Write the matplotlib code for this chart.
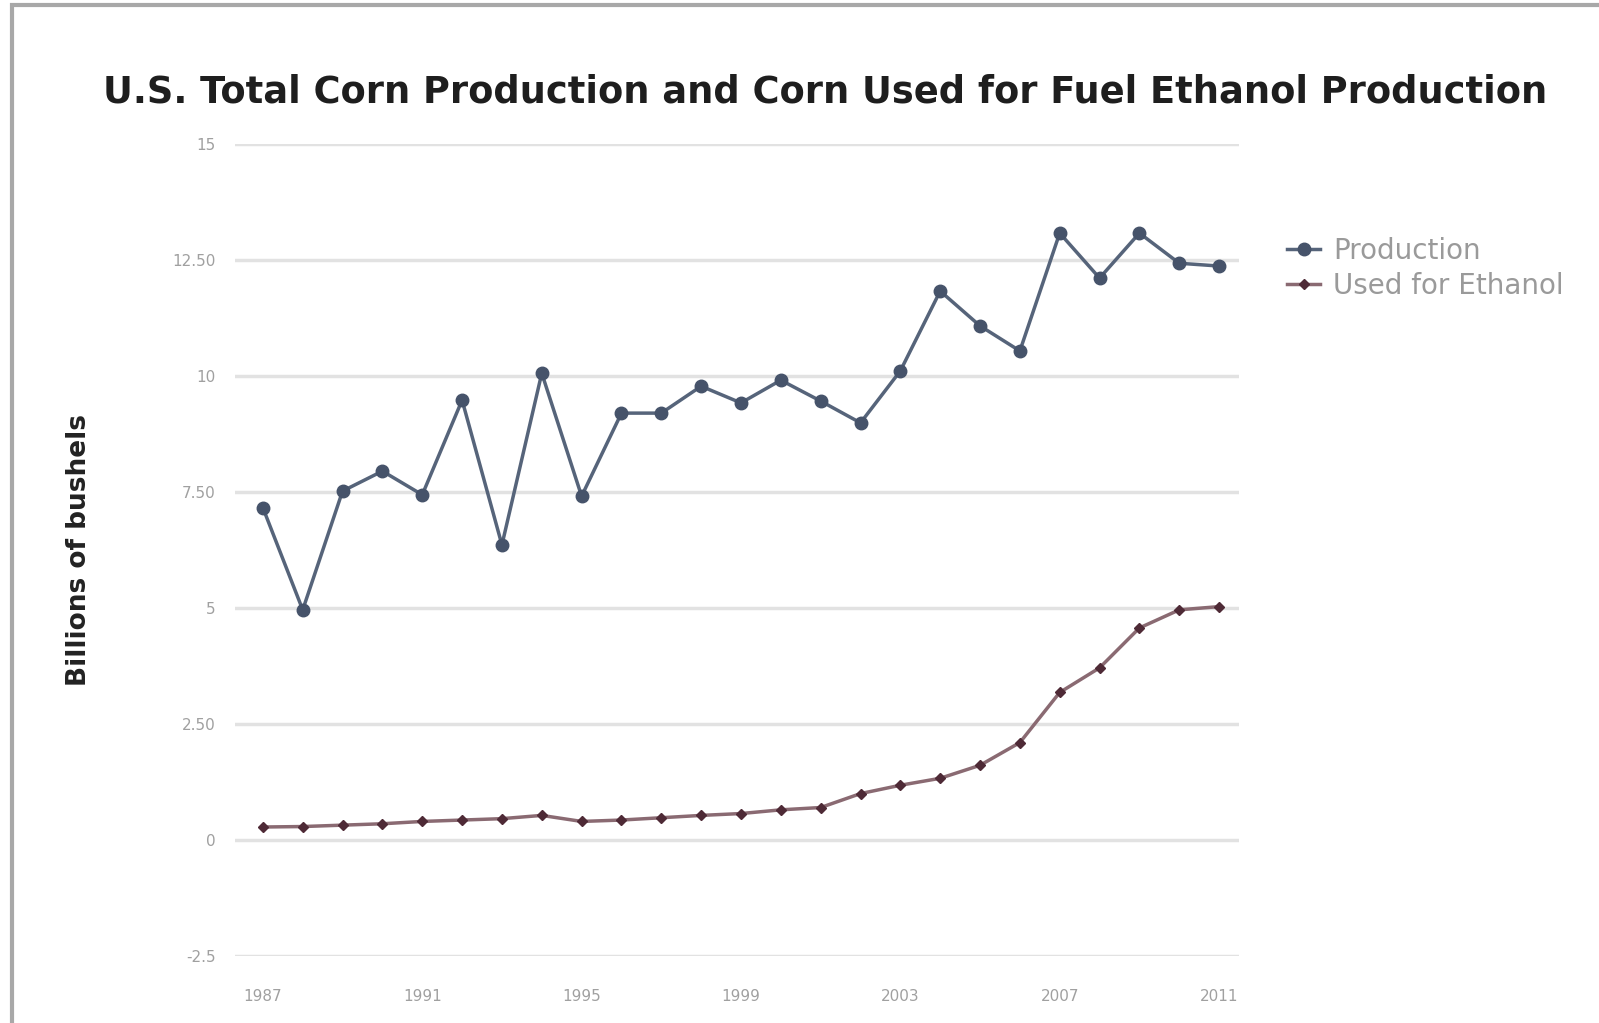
import numpy as np
import matplotlib
matplotlib.use("Agg")
import matplotlib.pyplot as plt
from matplotlib.patches import Rectangle

years = list(range(1987, 2012))
production = [7.16, 4.96, 7.52, 7.95, 7.44, 9.48, 6.36, 10.06, 7.41, 9.20,
              9.20, 9.78, 9.42, 9.91, 9.46, 8.99, 10.11, 11.83, 11.08, 10.54,
              13.08, 12.11, 13.08, 12.43, 12.37]
ethanol = [0.28, 0.29, 0.32, 0.35, 0.40, 0.43, 0.46, 0.53, 0.40, 0.43,
           0.48, 0.53, 0.57, 0.65, 0.70, 1.00, 1.18, 1.33, 1.61, 2.10,
           3.18, 3.71, 4.57, 4.96, 5.03]
y_ticks = [-2.5, 0, 2.5, 5, 7.5, 10, 12.5, 15]
y_tick_labels = ["-2.5", "0", "2.50", "5", "7.50", "10", "12.50", "15"]
x_ticks = [1987, 1991, 1995, 1999, 2003, 2007, 2011]

W, H = 1599, 1023
fig = plt.figure(figsize=(W / 100, H / 100), dpi=100)
fig.patch.set_facecolor("white")

# grey frame round the picture
fig.patches.append(Rectangle((12 / W, -0.05), 1.2, 1 - 5 / H + 0.05,
                             transform=fig.transFigure, fill=False,
                             edgecolor="#a8a8a8", linewidth=3))

ax = fig.add_axes([235 / W, 67 / H, (1239 - 235) / W, (953 - 141) / H])
ax.set_xlim(1986.3, 2011.5)
ax.set_ylim(-2.5, 15)

for t in y_ticks:
    ax.axhline(t, color="#e2e2e2", linewidth=2.5, zorder=0)

ax.plot(years, production, color="#56647a", linewidth=2.5, marker="o",
        markersize=9, markerfacecolor="#46536a", markeredgecolor="#46536a",
        label="Production", zorder=3)
ax.plot(years, ethanol, color="#8a6a72", linewidth=2.5, marker="D",
        markersize=5, markerfacecolor="#4e2a36", markeredgecolor="#4e2a36",
        label="Used for Ethanol", zorder=3)

for s in ax.spines.values():
    s.set_visible(False)
ax.set_yticks(y_ticks)
ax.set_yticklabels(y_tick_labels)
ax.set_xticks(x_ticks)
ax.tick_params(length=0, labelsize=11, labelcolor="#a0a0a0")
ax.tick_params(axis="y", pad=14)
ax.tick_params(axis="x", pad=24)

ax.set_ylabel("Billions of bushels", fontsize=19, fontweight="bold",
              color="#222222", labelpad=58)

fig.text(825 / W, 1 - 92 / H,
         "U.S. Total Corn Production and Corn Used for Fuel Ethanol Production",
         ha="center", va="center", fontsize=26.5, fontweight="bold",
         color="#1e1e1e")

fig.legend(loc="upper left", bbox_to_anchor=(1276 / W, 1 - 226 / H),
           frameon=False, fontsize=20, labelcolor="#9a9a9a", handlelength=1.2,
           handletextpad=0.45, labelspacing=0.25, borderaxespad=0)

fig.savefig("out.png", dpi=100)
